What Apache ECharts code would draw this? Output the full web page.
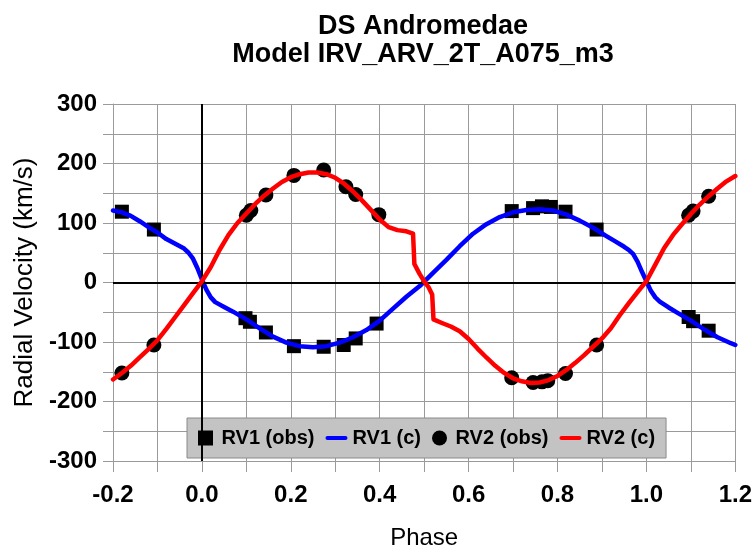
<!DOCTYPE html>
<html><head><meta charset="utf-8">
<script src="https://cdn.jsdelivr.net/npm/echarts@6/dist/echarts.min.js"></script>
<style>html,body{margin:0;padding:0;background:#fff}#c{width:755px;height:555px}</style>
</head><body><div id="c"></div>
<script>
const titleLines = ["DS Andromedae", "Model IRV_ARV_2T_A075_m3"];
const xTicks = [-0.2, 0.0, 0.2, 0.4, 0.6, 0.8, 1.0, 1.2];
const yTicks = [-300, -200, -100, 0, 100, 200, 300];
const seriesNames = ["RV1 (obs)", "RV1 (c)", "RV2 (obs)", "RV2 (c)"];

const rv1Obs = [[-0.18,119],[-0.108,89],[0.098,-60],[0.108,-66],[0.144,-84],[0.207,-107],[0.274,-108],[0.319,-105],[0.346,-94],[0.393,-69],
  [0.697,120],[0.745,125],[0.765,128],[0.785,127],[0.818,119],[0.888,89],[1.095,-58],[1.105,-65],[1.14,-81]];
const rv2Obs = [[-0.18,-152],[-0.108,-105],[0.100,113],[0.110,121],[0.144,147],[0.207,180],[0.274,189],[0.324,161],[0.346,148],[0.398,114],
  [0.697,-160],[0.745,-168],[0.765,-167],[0.778,-165],[0.818,-153],[0.888,-105],[1.095,113],[1.105,120],[1.14,145]];
const rv1Calc = [[-0.2,121],[-0.18,118],[-0.16,112],[-0.14,103],[-0.12,93],[-0.10,84],[-0.08,73],[-0.06,65],[-0.04,57],[-0.03,50],
  [-0.02,40],[-0.01,24],[0.0,5],[0.01,-12],[0.02,-25],[0.03,-33],[0.05,-41],[0.07,-49],[0.10,-62],[0.13,-77],[0.16,-91],
  [0.19,-101],[0.22,-107],[0.25,-109],[0.28,-107],[0.31,-101],[0.34,-92],[0.37,-80],[0.40,-64],[0.43,-44],[0.46,-24],
  [0.49,-6],[0.52,16],[0.55,38],[0.58,61],[0.61,82],[0.64,98],[0.67,110],[0.70,118],[0.73,122],[0.76,123],[0.79,121],
  [0.82,114],[0.85,104],[0.88,92],[0.91,78],[0.93,69],[0.95,60],[0.96,55],[0.97,48],[0.98,35],[0.99,18],[1.0,2],
  [1.01,-14],[1.02,-25],[1.03,-32],[1.05,-42],[1.07,-51],[1.10,-64],[1.13,-79],[1.16,-92],[1.19,-102],[1.2,-105]];
const rv2Calc = [[-0.2,-163],[-0.18,-152],[-0.16,-140],[-0.14,-126],[-0.12,-112],[-0.10,-97],[-0.08,-78],[-0.06,-58],[-0.04,-38],
  [-0.02,-18],[0.0,2],[0.02,26],[0.04,55],[0.06,80],[0.08,100],[0.10,116],[0.12,132],[0.14,146],[0.16,158],[0.18,169],
  [0.20,177],[0.22,182],[0.24,185],[0.26,185],[0.28,182],[0.30,176],[0.32,166],[0.34,153],[0.36,138],[0.38,122],[0.40,106],
  [0.42,93],[0.44,88],[0.46,86],[0.475,82],[0.478,31],[0.49,14],[0.50,2],[0.51,-8],[0.518,-20],[0.521,-62],[0.54,-68],
  [0.56,-74],[0.58,-82],[0.60,-95],[0.62,-111],[0.64,-126],[0.66,-140],[0.68,-152],[0.70,-161],[0.72,-166],[0.74,-169],
  [0.76,-168],[0.78,-164],[0.80,-157],[0.82,-147],[0.84,-135],[0.86,-122],[0.88,-108],[0.90,-94],[0.92,-77],[0.94,-55],
  [0.96,-35],[0.98,-16],[1.0,2],[1.02,30],[1.04,58],[1.06,80],[1.08,98],[1.10,115],[1.12,131],[1.14,145],[1.16,158],
  [1.18,170],[1.20,179]];

const FONT = 'Liberation Sans, Arial, sans-serif';
const chart = echarts.init(document.getElementById('c'), null, {renderer: 'canvas'});
const gridGray = '#9a9a9a';
const squareIcon = 'path://M0,0h10v10h-10z';
const lineIcon = 'path://M2,0h18a2,2 0 0 1 0,4h-18a2,2 0 0 1 0,-4z';
chart.setOption({
  animation: false,
  backgroundColor: '#fff',
  title: {
    text: titleLines.join('\n'),
    left: 418, top: 8, textAlign: 'center',
    textStyle: {fontFamily: FONT, fontWeight: 'bold', fontSize: 27, lineHeight: 28, color: '#000'}
  },
  grid: {left: 113, right: 18, top: 104, bottom: 87, containLabel: false},
  legend: {
    data: [
      {name: seriesNames[0], icon: squareIcon},
      {name: seriesNames[1], icon: lineIcon},
      {name: seriesNames[2], icon: 'circle'},
      {name: seriesNames[3], icon: lineIcon}
    ],
    left: 187, top: 418,
    padding: [10, 11],
    itemGap: 11, itemWidth: 22, itemHeight: 15,
    backgroundColor: '#c3c3c3', borderColor: '#8a8a8a', borderWidth: 1,
    textStyle: {fontFamily: FONT, fontWeight: 'bold', fontSize: 20, color: '#000'}
  },
  xAxis: {
    type: 'value', min: xTicks[0], max: xTicks[xTicks.length - 1], interval: 0.2,
    name: 'Phase', nameLocation: 'middle', nameGap: 65,
    nameTextStyle: {fontFamily: FONT, fontSize: 24, color: '#000'},
    axisLine: {show: true, onZero: false, lineStyle: {color: gridGray, width: 1}},
    axisTick: {show: true, length: 11, lineStyle: {color: gridGray}},
    minorTick: {show: true, splitNumber: 2, length: 11, lineStyle: {color: gridGray}},
    axisLabel: {fontFamily: FONT, fontWeight: 'bold', fontSize: 24, color: '#000', margin: 22,
      formatter: v => v.toFixed(1)},
    splitLine: {show: true, lineStyle: {color: gridGray, width: 1}},
    minorSplitLine: {show: true, lineStyle: {color: gridGray, width: 1}}
  },
  yAxis: {
    type: 'value', min: yTicks[0], max: yTicks[yTicks.length - 1], interval: 100,
    name: 'Radial Velocity (km/s)', nameLocation: 'middle', nameGap: 74,
    nameTextStyle: {fontFamily: FONT, fontSize: 26, color: '#000'},
    axisLine: {show: true, onZero: false, lineStyle: {color: gridGray, width: 1}},
    axisTick: {show: true, length: 10, lineStyle: {color: gridGray}},
    minorTick: {show: true, splitNumber: 2, length: 10, lineStyle: {color: gridGray}},
    axisLabel: {fontFamily: FONT, fontWeight: 'bold', fontSize: 24, color: '#000', margin: 16},
    splitLine: {show: true, lineStyle: {color: gridGray, width: 1}},
    minorSplitLine: {show: true, lineStyle: {color: gridGray, width: 1}}
  },
  series: [
    {
      name: '_zero', type: 'line', data: [], z: 1, silent: true,
      markLine: {silent: true, symbol: 'none', label: {show: false},
        lineStyle: {color: '#000', width: 2, type: 'solid'},
        data: [{xAxis: 0}, {yAxis: 0}]}
    },
    {name: seriesNames[0], type: 'scatter', data: rv1Obs, symbol: 'rect', symbolSize: 14,
      itemStyle: {color: '#000', opacity: 1}, z: 3},
    {name: seriesNames[1], type: 'line', data: rv1Calc, showSymbol: false, symbol: 'none', smooth: false,
      lineStyle: {color: '#0000ff', width: 4.5, cap: 'round', join: 'round'}, itemStyle: {color: '#0000ff'}, z: 4},
    {name: seriesNames[2], type: 'scatter', data: rv2Obs, symbol: 'circle', symbolSize: 15,
      itemStyle: {color: '#000', opacity: 1}, z: 5},
    {name: seriesNames[3], type: 'line', data: rv2Calc, showSymbol: false, symbol: 'none', smooth: false,
      lineStyle: {color: '#ff0000', width: 4.5, cap: 'round', join: 'round'}, itemStyle: {color: '#ff0000'}, z: 6}
  ]
});
</script></body></html>
